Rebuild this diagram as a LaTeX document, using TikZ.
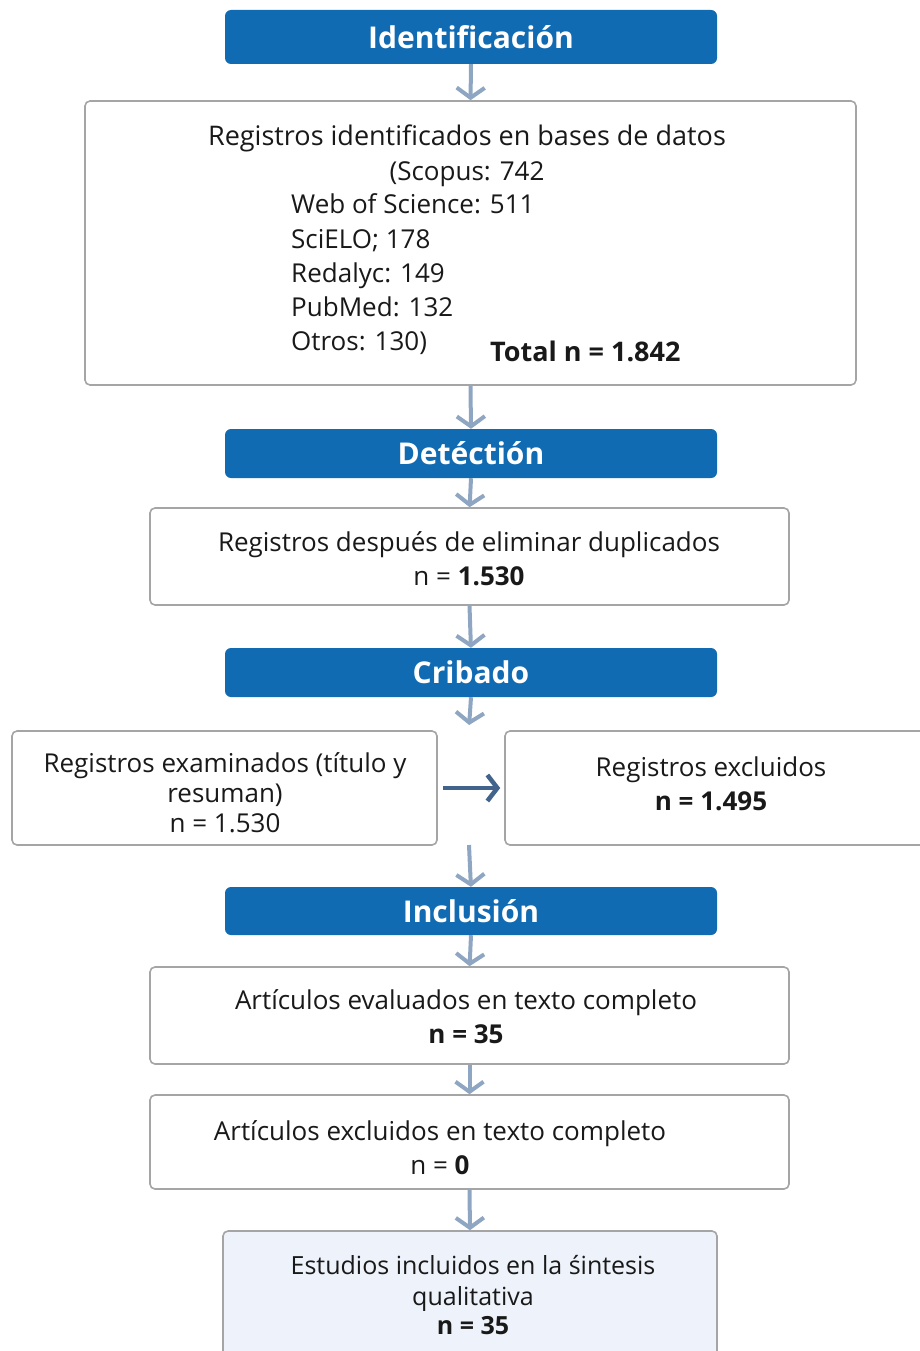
\documentclass[tikz,border=0pt]{standalone}
\usepackage{fontspec}
\setmainfont{Open Sans}
\usetikzlibrary{arrows.meta}
\definecolor{hdrblue}{RGB}{16,107,178}
\definecolor{arrgray}{RGB}{143,166,194}
\definecolor{arrdark}{RGB}{66,100,140}
\definecolor{boxline}{RGB}{165,165,165}
\definecolor{lightfill}{RGB}{238,242,250}
\definecolor{txt}{RGB}{25,25,25}
\tikzset{
  header/.style={fill=hdrblue, draw=none, rounded corners=6pt, text=white,
    font=\fontsize{30}{32}\selectfont\bfseries, inner sep=0pt},
  box/.style={draw=boxline, line width=1.6pt, fill=white, rounded corners=5pt, inner sep=0pt},
  lbl/.style={text=txt, font=\fontsize{26}{34}\selectfont, inner sep=0pt, align=center},
  lst/.style={text=txt, font=\fontsize{26}{34}\selectfont, inner sep=0pt, anchor=base west},
  varr/.style={draw=arrgray, line width=4pt,
    -{Straight Barb[length=10pt,width=28pt,line width=4pt]}, shorten >=2pt},
  harr/.style={draw=arrdark, line width=4.5pt,
    -{Straight Barb[length=10pt,width=26pt,line width=4.5pt]}},
}
\begin{document}
\begin{tikzpicture}[x=1pt,y=-1pt]
\useasboundingbox (0,0) rectangle (919,1351);
\fill[white] (0,0) rectangle (919,1351);

% headers
\node[header, minimum width=492pt, minimum height=54pt] (h1) at (471,37) {Identificación};
\node[header, minimum width=492pt, minimum height=49pt] (h2) at (471,453.5) {Detéctión};
\node[header, minimum width=492pt, minimum height=49pt] (h3) at (471,672.5) {Cribado};
\node[header, minimum width=492pt, minimum height=48pt] (h4) at (471,911) {Inclusión};

% box 1
\node[box, minimum width=771pt, minimum height=284pt] (b1) at (470.5,243) {};
\node[lbl, anchor=base, font=\fontsize{27}{34}\selectfont] (t1a) at (467,146) {Registros identificados en bases de datos};
\node[lbl, anchor=base] (t1b) at (467,181) {(Scopus: 742};
\node[lst] (t1c) at (291,214) {Web of Science: 511};
\node[lst] (t1d) at (291,248) {SciELO; 178};
\node[lst] (t1e) at (291,282) {Redalyc: 149};
\node[lst] (t1f) at (291,316) {PubMed: 132};
\node[lst] (t1g) at (291,350) {Otros: 130)};
\node[lst, font=\fontsize{27}{27}\selectfont\bfseries] (t1h) at (490,361) {Total n = 1.842};

% box 2
\node[box, minimum width=639pt, minimum height=97pt] (b2) at (469.5,556.5) {};
\node[lbl] (t2) at (469,559) {Registros después de eliminar duplicados\\n = \textbf{1.530}};

% box 3
\node[box, minimum width=425pt, minimum height=114pt] (b3l) at (224.5,788) {};
\node[lbl] (t3l) at (225,793) {Registros examinados (título y\\[-4pt]resuman)\\[-4pt]n = 1.530};
\node[box, minimum width=420pt, minimum height=114pt] (b3r) at (715,788) {};
\node[lbl] (t3r) at (711,784) {Registros excluidos\\\textbf{n = 1.495}};

% box 4
\node[box, minimum width=639pt, minimum height=97pt] (b4) at (469.5,1015.5) {};
\node[lbl] (t4) at (466,1017) {Artículos evaluados en texto completo\\\textbf{n = 35}};

% box 5
\node[box, minimum width=639pt, minimum height=94pt] (b5) at (469.5,1142) {};
\node[lbl] (t5) at (440,1148) {Artículos excluidos en texto completo\\n = \textbf{0}};

% box 6
\node[box, fill=lightfill, minimum width=494pt, minimum height=140pt] (b6) at (470,1301) {};
\node[lbl, font=\fontsize{25}{33}\selectfont, align=center] (t6) at (473,1295) {Estudios incluidos en la śintesis\\[-2pt]qualitativa\\[-4pt]\textbf{n = 35}};

% arrows
\draw[varr] (h1.south) -- ([yshift=-2pt]b1.north);
\draw[varr] (b1.south) -- ([yshift=-2pt]h2.north);
\draw[varr] (h2.south) -- ([yshift=-2pt]b2.north);
\draw[varr] (b2.south) -- ([yshift=-2pt]h3.north);
\draw[varr] (h3.south) -- (469,727);
\draw[varr] (469,845) -- ([yshift=-2pt]h4.north);
\draw[varr] (h4.south) -- ([yshift=-2pt]b4.north);
\draw[varr] (b4.south) -- ([yshift=-2pt]b5.north);
\draw[varr] (b5.south) -- ([yshift=-2pt]b6.north);
\draw[harr] ([xshift=5pt]b3l.east) -- ([xshift=-4pt]b3r.west);
\end{tikzpicture}
\end{document}
